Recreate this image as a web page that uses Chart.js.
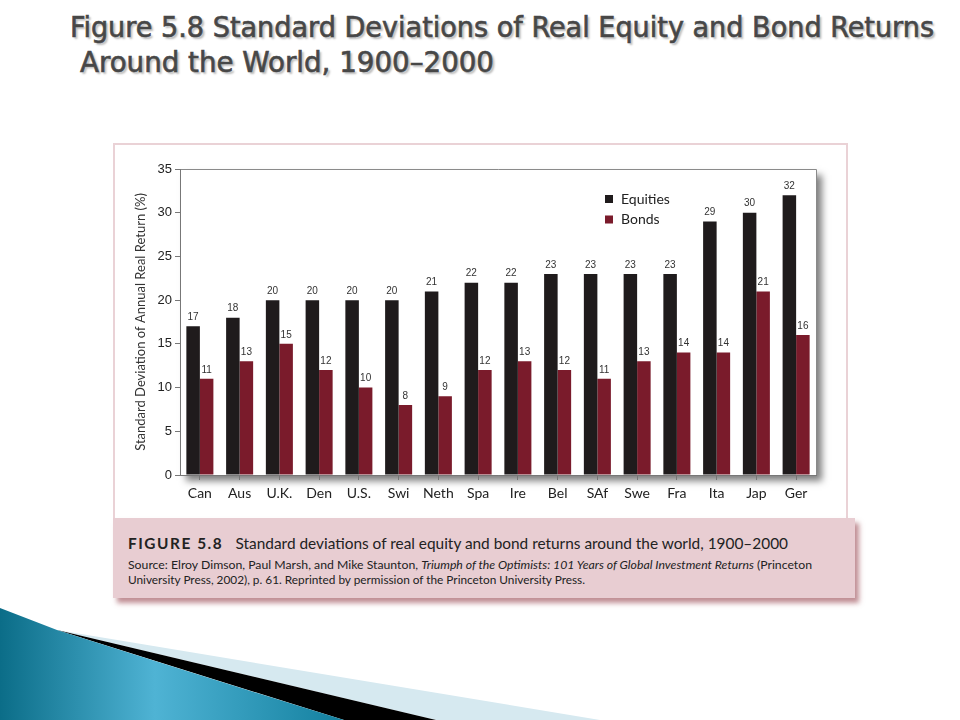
<!DOCTYPE html>
<html>
<head>
<meta charset="utf-8">
<script src="https://cdn.jsdelivr.net/npm/chart.js@4.4.1/dist/chart.umd.min.js"></script>
<style>
  html, body { margin: 0; padding: 0; }
  body { width: 960px; height: 720px; position: relative; overflow: hidden; background: #fff; }
  .fit { position: absolute; white-space: nowrap; transform-origin: 0 0; }
  .title { font-family: "DejaVu Sans Condensed", "DejaVu Sans", sans-serif; font-size: 29px; color: #474747;
           -webkit-text-stroke: 0.6px #474747;
           text-shadow: 2px 2px 2px rgba(0,0,0,0.28); line-height: 34px; }
  #frame { position: absolute; left: 113px; top: 143px; width: 735px; height: 377px;
           box-sizing: border-box; border: 2px solid #ead2d6; background: #fff; }
  #caption { position: absolute; left: 113px; top: 518px; width: 742px; height: 80px;
             background: #e8cdd2; box-shadow: 4px 5px 5px rgba(140,50,60,0.55); }
  .cap { font-family: Lato, "Open Sans", sans-serif; color: #222; }
  .cap b { letter-spacing: 1.5px; margin-right: 12px; }
  #chartBox { position: absolute; left: 118px; top: 150px; width: 725px; height: 365px; }
  #swoosh { position: absolute; left: 0; top: 600px; }
</style>
</head>
<body>
<div class="fit title" data-w="864" style="left:70px; top:10px;">Figure 5.8 Standard Deviations of Real Equity and Bond Returns</div>
<div class="fit title" data-w="414" style="left:80px; top:45px;">Around the World, 1900–2000</div>

<div id="frame"></div>
<div id="caption">
  <div class="fit cap" data-w="660" style="left:15px; top:16px; font-size:15px;"><b>FIGURE 5.8</b>Standard deviations of real equity and bond returns around the world, 1900–2000</div>
  <div class="fit cap" data-w="684" style="left:15px; top:40px; font-size:11px;">Source: Elroy Dimson, Paul Marsh, and Mike Staunton, <i>Triumph of the Optimists: 101 Years of Global Investment Returns</i> (Princeton</div>
  <div class="fit cap" data-w="457" style="left:15px; top:55px; font-size:11px;">University Press, 2002), p. 61. Reprinted by permission of the Princeton University Press.</div>
</div>

<div id="chartBox"><canvas id="chart"></canvas></div>

<svg id="swoosh" width="960" height="120" viewBox="0 600 960 120">
  <defs>
    <linearGradient id="blue" x1="0" y1="0" x2="1" y2="0">
      <stop offset="0" stop-color="#0b6d88"/>
      <stop offset="0.45" stop-color="#4fb3d4"/>
      <stop offset="1" stop-color="#13809f"/>
    </linearGradient>
  </defs>
  <polygon points="57,630 600,720 436,720" fill="#d6e9f0"/>
  <polygon points="57,630 436,720 344,720" fill="#000"/>
  <path d="M0,608 L57,630 Q240,688 344,720 L0,720 Z" fill="url(#blue)"/>
</svg>

<script>
// data
const categories = ['Can', 'Aus', 'U.K.', 'Den', 'U.S.', 'Swi', 'Neth', 'Spa', 'Ire', 'Bel', 'SAf', 'Swe', 'Fra', 'Ita', 'Jap', 'Ger'];
const equities = [17, 18, 20, 20, 20, 20, 21, 22, 22, 23, 23, 23, 23, 29, 30, 32];
const bonds = [11, 13, 15, 12, 10, 8, 9, 12, 13, 12, 11, 13, 14, 14, 21, 16];
const yTicks = [0, 5, 10, 15, 20, 25, 30, 35];

// squeeze text lines to the widths in the figure
document.querySelectorAll('.fit').forEach(el => {
    const w = +el.dataset.w;
    const actual = el.getBoundingClientRect().width;
    if (w && actual) el.style.transform = 'scaleX(' + (w / actual) + ')';
});

const plotFrame = {
    id: 'plotFrame',
    beforeDraw(chart) {
        const a = chart.chartArea, ctx = chart.ctx;
        ctx.save();
        ctx.shadowColor = 'rgba(0,0,0,0.5)';
        ctx.shadowBlur = 7;
        ctx.shadowOffsetX = 6;
        ctx.shadowOffsetY = 6;
        ctx.fillStyle = '#fff';
        ctx.fillRect(a.left, a.top, a.right - a.left, a.bottom - a.top);
        ctx.restore();
        ctx.save();
        ctx.strokeStyle = '#8a8a8a';
        ctx.lineWidth = 1;
        ctx.beginPath();
        ctx.moveTo(a.left, a.top + 0.5);
        ctx.lineTo(a.right + 0.5, a.top + 0.5);
        ctx.lineTo(a.right + 0.5, a.bottom);
        ctx.stroke();
        ctx.restore();
    }
};

const valueLabels = {
    id: 'valueLabels',
    afterDatasetsDraw(chart) {
        const ctx = chart.ctx;
        ctx.save();
        ctx.font = '10px "Liberation Sans", Arial, sans-serif';
        ctx.fillStyle = '#333';
        ctx.textAlign = 'center';
        ctx.textBaseline = 'bottom';
        chart.data.datasets.forEach((ds, i) => {
            chart.getDatasetMeta(i).data.forEach((bar, j) => {
                ctx.fillText(ds.data[j], bar.x, bar.y - 4);
            });
        });
        ctx.restore();
    }
};

const innerLegend = {
    id: 'innerLegend',
    afterDraw(chart) {
        const a = chart.chartArea, ctx = chart.ctx;
        const x = a.left + 425, y0 = a.top + 26;
        ctx.save();
        ctx.font = '14px Lato, "Open Sans", sans-serif';
        ctx.textBaseline = 'middle';
        chart.data.datasets.forEach((ds, i) => {
            const y = y0 + i * 20.5;
            ctx.fillStyle = ds.backgroundColor;
            ctx.fillRect(x, y, 8, 8);
            ctx.fillStyle = '#222';
            ctx.fillText(ds.label, x + 16, y + 4);
        });
        ctx.restore();
    }
};

new Chart(document.getElementById('chart'), {
    type: 'bar',
    data: {
        labels: categories,
        datasets: [
            { label: 'Equities', data: equities, backgroundColor: '#1f1b1c', barPercentage: 1, categoryPercentage: 0.68 },
            { label: 'Bonds', data: bonds, backgroundColor: '#7a1b2b', barPercentage: 1, categoryPercentage: 0.68 }
        ]
    },
    options: {
        responsive: true,
        maintainAspectRatio: false,
        animation: false,
        layout: { padding: { left: 12, top: 19, right: 27, bottom: 0 } },
        plugins: { legend: { display: false }, tooltip: { enabled: false } },
        scales: {
            x: {
                grid: { display: true, drawOnChartArea: false, drawTicks: true, tickLength: 5, offset: false, color: '#777' },
                border: { display: true, color: '#777' },
                ticks: { color: '#222', padding: 5, font: { family: 'Lato', size: 14 } },
                afterFit(s) { s.height = 40; }
            },
            y: {
                min: 0,
                max: 35,
                afterBuildTicks(s) { s.ticks = yTicks.map(v => ({ value: v })); },
                grid: { display: true, drawOnChartArea: false, drawTicks: true, tickLength: 5, color: '#777' },
                border: { display: true, color: '#777' },
                ticks: { color: '#222', padding: 3, font: { family: 'Liberation Sans', size: 13 } },
                title: {
                    display: true,
                    text: 'Standard Deviation of Annual Real Return (%)',
                    color: '#333',
                    padding: { top: 3, bottom: 3 },
                    font: { family: 'Lato', size: 13 }
                },
                afterFit(s) { s.width = 50; }
            }
        }
    },
    plugins: [plotFrame, valueLabels, innerLegend]
});
</script>
</body>
</html>
